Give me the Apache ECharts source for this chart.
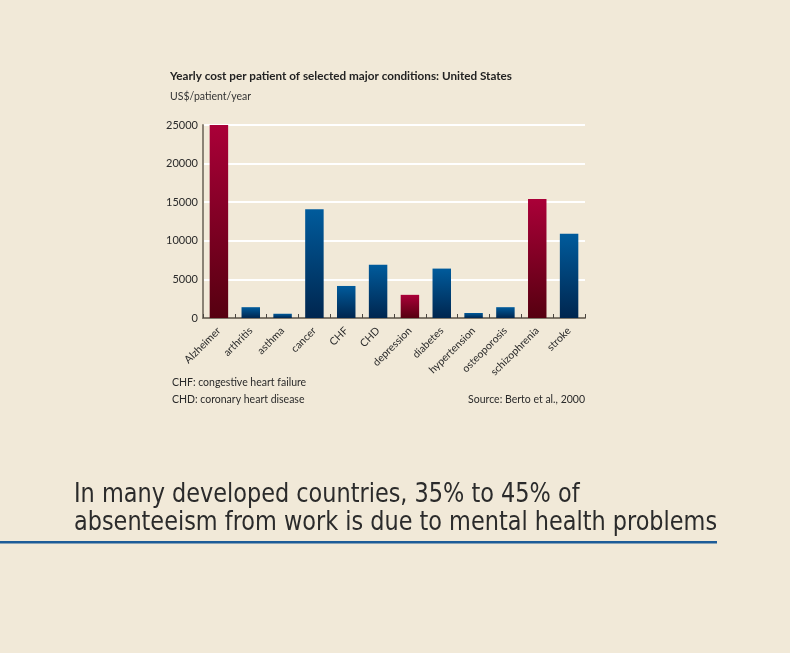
<!DOCTYPE html>
<html>
<head>
<meta charset="utf-8">
<script src="https://cdn.jsdelivr.net/npm/echarts@6/dist/echarts.min.js"></script>
<style>
html,body{margin:0;padding:0;background:#f1e9d8;}
#chart{width:790px;height:653px;}
</style>
</head>
<body>
<div id="chart"></div>
<script>
const categories = ['Alzheimer','arthritis','asthma','cancer','CHF','CHD','depression','diabetes','hypertension','osteoporosis','schizophrenia','stroke'];
const costs = [25000,1400,550,14100,4150,6900,3000,6400,650,1400,15400,10900];
const mentalFlags = [1,0,0,0,0,0,1,0,0,0,1,0];
const yTicks = {min:0, max:25000, interval:5000};

const redGrad = new echarts.graphic.LinearGradient(0,0,0,1,[{offset:0,color:'#aa0038'},{offset:1,color:'#560010'}]);
const blueGrad = new echarts.graphic.LinearGradient(0,0,0,1,[{offset:0,color:'#005b9c'},{offset:1,color:'#00264f'}]);

const chart = echarts.init(document.getElementById('chart'), null, {renderer:'canvas'});
const font = 'Lato, "Open Sans", sans-serif';
const bigFont = '27px "Liberation Sans Narrow", "DejaVu Sans Condensed", sans-serif';
chart.setOption({
  backgroundColor:'#f1e9d8',
  animation:false,
  grid:{left:203, right:205, top:125, bottom:335, containLabel:false},
  xAxis:{
    type:'category', data:categories,
    axisLine:{lineStyle:{color:'#7f776a', width:2}},
    axisTick:{show:true, inside:true, length:4, lineStyle:{color:'#4a4540', width:1}},
    axisLabel:{rotate:45, fontSize:10.5, color:'#2a2a2a', fontFamily:font, margin:11, interval:0}
  },
  yAxis:{
    type:'value', min:yTicks.min, max:yTicks.max, interval:yTicks.interval,
    axisLine:{show:true, lineStyle:{color:'#8a8275', width:2}},
    axisTick:{show:false},
    splitLine:{lineStyle:{color:'#ffffff', width:2}},
    axisLabel:{fontSize:11, color:'#2a2a2a', fontFamily:font, margin:5, formatter:v=>String(v)}
  },
  series:[{
    type:'bar', barCategoryGap:'42%',
    data:costs.map((v,i)=>({value:v, itemStyle:{color: mentalFlags[i]?redGrad:blueGrad}}))
  }],
  graphic:[
    {type:'text', left:170, top:70, style:{text:'Yearly cost per patient of selected major conditions: United States', font:'bold 11.7px '+font, fill:'#222'}},
    {type:'text', left:170, top:91, style:{text:'US$/patient/year', font:'10.5px '+font, fill:'#333'}},
    {type:'text', left:172, top:377, style:{text:'CHF: congestive heart failure', font:'10.5px '+font, fill:'#2a2a2a'}},
    {type:'text', left:172, top:394, style:{text:'CHD: coronary heart disease', font:'10.5px '+font, fill:'#2a2a2a'}},
    {type:'text', right:205, top:394, style:{text:'Source: Berto et al., 2000', font:'10.5px '+font, fill:'#2a2a2a', align:'right'}},
    {type:'text', x:74, y:481, scaleX:0.922, style:{text:'In many developed countries, 35% to 45% of', font:bigFont, fill:'#2b2b2b'}},
    {type:'text', x:74, y:509, scaleX:0.922, style:{text:'absenteeism from work is due to mental health problems', font:bigFont, fill:'#2b2b2b'}},
    {type:'rect', shape:{x:0, y:541, width:717, height:2.5}, style:{fill:'#1d5c98'}}
  ]
});
</script>
</body>
</html>
